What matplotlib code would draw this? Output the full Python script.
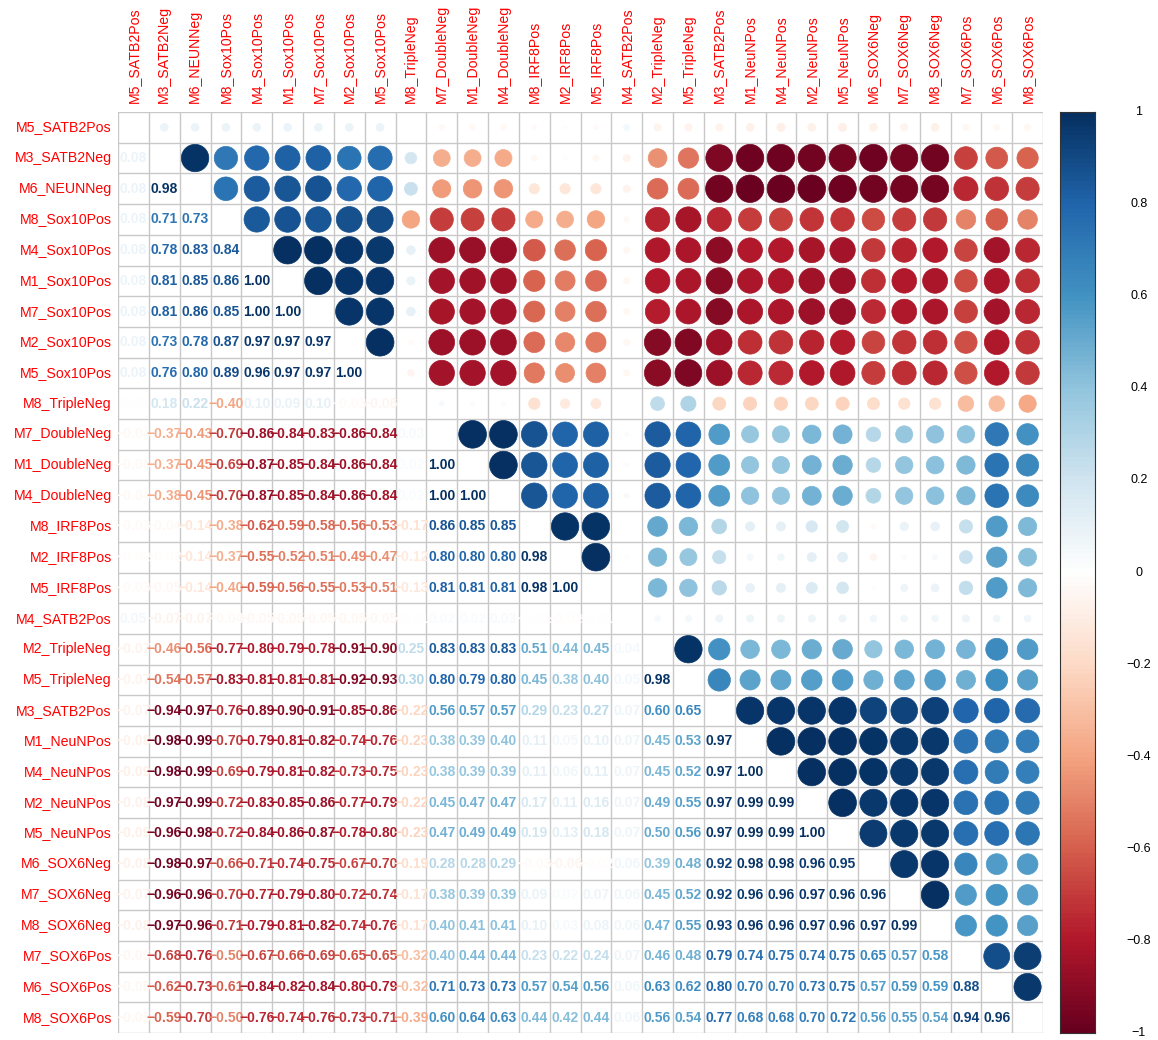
import numpy as np
import matplotlib.pyplot as plt
from matplotlib.colors import LinearSegmentedColormap
from matplotlib.patches import Circle

plt.rcParams['font.family'] = ['Liberation Sans', 'DejaVu Sans']

labels = ['M5_SATB2Pos', 'M3_SATB2Neg', 'M6_NEUNNeg', 'M8_Sox10Pos', 'M4_Sox10Pos',
          'M1_Sox10Pos', 'M7_Sox10Pos', 'M2_Sox10Pos', 'M5_Sox10Pos', 'M8_TripleNeg',
          'M7_DoubleNeg', 'M1_DoubleNeg', 'M4_DoubleNeg', 'M8_IRF8Pos', 'M2_IRF8Pos',
          'M5_IRF8Pos', 'M4_SATB2Pos', 'M2_TripleNeg', 'M5_TripleNeg', 'M3_SATB2Pos',
          'M1_NeuNPos', 'M4_NeuNPos', 'M2_NeuNPos', 'M5_NeuNPos', 'M6_SOX6Neg',
          'M7_SOX6Neg', 'M8_SOX6Neg', 'M7_SOX6Pos', 'M6_SOX6Pos', 'M8_SOX6Pos']

# lower triangle, one list per row (row k holds the correlations with columns 0..k-1)
r01 = [0.08]
r02 = [0.08, 0.98]
r03 = [0.08, 0.71, 0.73]
r04 = [0.08, 0.78, 0.83, 0.84]
r05 = [0.08, 0.81, 0.85, 0.86, 1.00]
r06 = [0.08, 0.81, 0.86, 0.85, 1.00, 1.00]
r07 = [0.08, 0.73, 0.78, 0.87, 0.97, 0.97, 0.97]
r08 = [0.08, 0.76, 0.80, 0.89, 0.96, 0.97, 0.97, 1.00]
r09 = [0.00, 0.18, 0.22, -0.40, 0.10, 0.09, 0.10, -0.03, -0.06]
r10 = [-0.04, -0.37, -0.43, -0.70, -0.86, -0.84, -0.83, -0.86, -0.84, 0.03]
r11 = [-0.04, -0.37, -0.45, -0.69, -0.87, -0.85, -0.84, -0.86, -0.84, 0.02, 1.00]
r12 = [-0.04, -0.38, -0.45, -0.70, -0.87, -0.85, -0.84, -0.86, -0.84, 0.02, 1.00, 1.00]
r13 = [-0.03, -0.04, -0.14, -0.38, -0.62, -0.59, -0.58, -0.56, -0.53, -0.17,
       0.86, 0.85, 0.85]
r14 = [-0.02, -0.02, -0.14, -0.37, -0.55, -0.52, -0.51, -0.49, -0.47, -0.12,
       0.80, 0.80, 0.80, 0.98]
r15 = [-0.03, -0.05, -0.14, -0.40, -0.59, -0.56, -0.55, -0.53, -0.51, -0.13,
       0.81, 0.81, 0.81, 0.98, 1.00]
r16 = [0.05, -0.07, -0.07, -0.04, -0.05, -0.05, -0.05, -0.05, -0.05, -0.01,
       0.02, 0.02, 0.03, -0.01, -0.02, -0.01]
r17 = [-0.07, -0.46, -0.56, -0.77, -0.80, -0.79, -0.78, -0.91, -0.90, 0.25,
       0.83, 0.83, 0.83, 0.51, 0.44, 0.45, 0.04]
r18 = [-0.07, -0.54, -0.57, -0.83, -0.81, -0.81, -0.81, -0.92, -0.93, 0.30,
       0.80, 0.79, 0.80, 0.45, 0.38, 0.40, 0.05, 0.98]
r19 = [-0.07, -0.94, -0.97, -0.76, -0.89, -0.90, -0.91, -0.85, -0.86, -0.22,
       0.56, 0.57, 0.57, 0.29, 0.23, 0.27, 0.07, 0.60, 0.65]
r20 = [-0.08, -0.98, -0.99, -0.70, -0.79, -0.81, -0.82, -0.74, -0.76, -0.23,
       0.38, 0.39, 0.40, 0.11, 0.05, 0.10, 0.07, 0.45, 0.53, 0.97]
r21 = [-0.09, -0.98, -0.99, -0.69, -0.79, -0.81, -0.82, -0.73, -0.75, -0.23,
       0.38, 0.39, 0.39, 0.11, 0.06, 0.11, 0.07, 0.45, 0.52, 0.97, 1.00]
r22 = [-0.08, -0.97, -0.99, -0.72, -0.83, -0.85, -0.86, -0.77, -0.79, -0.22,
       0.45, 0.47, 0.47, 0.17, 0.11, 0.16, 0.07, 0.49, 0.55, 0.97, 0.99, 0.99]
r23 = [-0.09, -0.96, -0.98, -0.72, -0.84, -0.86, -0.87, -0.78, -0.80, -0.23,
       0.47, 0.49, 0.49, 0.19, 0.13, 0.18, 0.07, 0.50, 0.56, 0.97, 0.99, 0.99, 1.00]
r24 = [-0.08, -0.98, -0.97, -0.66, -0.71, -0.74, -0.75, -0.67, -0.70, -0.19,
       0.28, 0.28, 0.29, -0.03, -0.06, -0.02, 0.06, 0.39, 0.48, 0.92, 0.98, 0.98,
       0.96, 0.95]
r25 = [-0.07, -0.96, -0.96, -0.70, -0.77, -0.79, -0.80, -0.72, -0.74, -0.17,
       0.38, 0.39, 0.39, 0.09, 0.02, 0.07, 0.06, 0.45, 0.52, 0.92, 0.96, 0.96,
       0.97, 0.96, 0.96]
r26 = [-0.08, -0.97, -0.96, -0.71, -0.79, -0.81, -0.82, -0.74, -0.76, -0.17,
       0.40, 0.41, 0.41, 0.10, 0.03, 0.08, 0.06, 0.47, 0.55, 0.93, 0.96, 0.96,
       0.97, 0.96, 0.97, 0.99]
r27 = [-0.05, -0.68, -0.76, -0.50, -0.67, -0.66, -0.69, -0.65, -0.65, -0.32,
       0.40, 0.44, 0.44, 0.23, 0.22, 0.24, 0.07, 0.46, 0.48, 0.79, 0.74, 0.75,
       0.74, 0.75, 0.65, 0.57, 0.58]
r28 = [-0.05, -0.62, -0.73, -0.61, -0.84, -0.82, -0.84, -0.80, -0.79, -0.32,
       0.71, 0.73, 0.73, 0.57, 0.54, 0.56, 0.06, 0.63, 0.62, 0.80, 0.70, 0.70,
       0.73, 0.75, 0.57, 0.59, 0.59, 0.88]
r29 = [-0.05, -0.59, -0.70, -0.50, -0.76, -0.74, -0.76, -0.73, -0.71, -0.39,
       0.60, 0.64, 0.63, 0.44, 0.42, 0.44, 0.06, 0.56, 0.54, 0.77, 0.68, 0.68,
       0.70, 0.72, 0.56, 0.55, 0.54, 0.94, 0.96]

lower = [r01, r02, r03, r04, r05, r06, r07, r08, r09, r10, r11, r12, r13, r14, r15,
         r16, r17, r18, r19, r20, r21, r22, r23, r24, r25, r26, r27, r28, r29]

n = len(labels)
corr = np.eye(n)
for i, row in enumerate(lower, start=1):
    corr[i, :i] = row
    corr[:i, i] = row

cmap = LinearSegmentedColormap.from_list(
    'rdbu', ['#67001F', '#B2182B', '#D6604D', '#F4A582', '#FDDBC7', '#FFFFFF',
             '#D1E5F0', '#92C5DE', '#4393C3', '#2166AC', '#053061'], N=200)


def col(v):
    return cmap((v + 1) / 2)


W, H = 1158, 1040
fig = plt.figure(figsize=(W / 100, H / 100), dpi=100)
x0, x1, y0, y1 = 118, 1043, 112, 1033
ax = fig.add_axes([x0 / W, 1 - y1 / H, (x1 - x0) / W, (y1 - y0) / H])
ax.set_xlim(0, n)
ax.set_ylim(n, 0)
ax.axis('off')

for k in range(n + 1):
    ax.axhline(k, color='#C8C8C8', lw=1, zorder=1)
    ax.axvline(k, color='#C8C8C8', lw=1, zorder=1)

for i in range(n):
    for j in range(n):
        v = corr[i, j]
        if i > j:
            s = f'{v:.2f}'.replace('-', '\u2212')
            ax.text(j + 0.5, i + 0.5, s, ha='center', va='center', color=col(v),
                    fontsize=10, fontweight='bold', zorder=3)
        elif i < j:
            ax.add_patch(Circle((j + 0.5, i + 0.5), 0.45 * np.sqrt(abs(v)),
                                facecolor=col(v), edgecolor=col(v), lw=0.5, zorder=2))

for k, lab in enumerate(labels):
    ax.text(-0.2, k + 0.5, lab, ha='right', va='center', color='red', fontsize=10.2)
    ax.text(k + 0.5, -0.3, lab, ha='center', va='bottom', rotation=90,
            color='red', fontsize=10.2)

# colour legend on the right
cx0, cx1 = 1060, 1095
cax = fig.add_axes([cx0 / W, 1 - y1 / H, (cx1 - cx0) / W, (y1 - y0) / H])
grad = np.linspace(1, -1, 200).reshape(-1, 1)
cax.imshow(grad, cmap=cmap, vmin=-1, vmax=1, aspect='auto',
           extent=[0, 1, -1, 1], interpolation='nearest')
cax.set_xlim(0, 1)
cax.set_ylim(-1, 1)
cax.set_xticks([])
cax.set_yticks([])
for sp in cax.spines.values():
    sp.set_linewidth(0.8)
    sp.set_color('#333333')

ticks = np.round(np.linspace(-1, 1, 11), 1)
for t in ticks:
    s = f'{t:g}'.replace('-', '\u2212')
    fig.text(1139 / W, 1 - (y0 + (1 - t) / 2 * (y1 - y0)) / H, s,
             ha='center', va='center', fontsize=9, color='black')

fig.savefig('out.png', dpi=100)
